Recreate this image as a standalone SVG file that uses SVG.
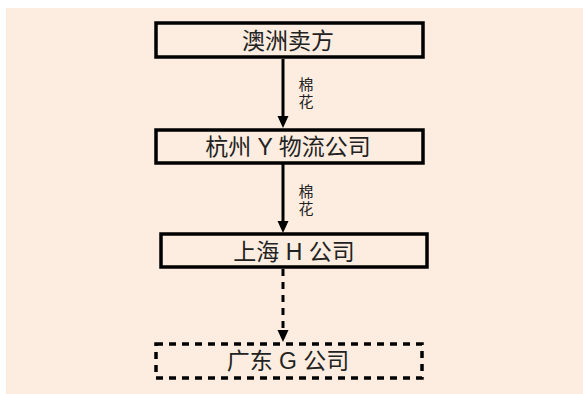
<svg xmlns="http://www.w3.org/2000/svg" width="583" height="394" viewBox="0 0 583 394">
<style>
.box{fill:none;stroke:#000;stroke-width:3.5}
.dash{stroke-dasharray:7 6}
.t{font-family:"Liberation Sans","Noto Sans CJK SC",sans-serif;font-size:23px;fill:#222;text-anchor:middle}
.lbl{font-family:"Noto Sans CJK SC",sans-serif;font-size:15px;fill:#222;writing-mode:vertical-rl;letter-spacing:2px}
.c{stroke:#000;stroke-width:3;fill:none}
</style>
<rect x="6" y="8" width="577" height="386" fill="#fcede0"/>
<g id="connectors">
<line class="c" x1="283" y1="59" x2="283" y2="117"/>
<path d="M277.5,116 L288.5,116 L283,128 Z" fill="#000"/>
<line class="c" x1="283" y1="164" x2="283" y2="222"/>
<path d="M277.5,221 L288.5,221 L283,233 Z" fill="#000"/>
<line class="c dash" x1="283" y1="269" x2="283" y2="331"/>
<path d="M277.5,330 L288.5,330 L283,342 Z" fill="#000"/>
<text class="lbl" x="306" y="77">棉花</text>
<text class="lbl" x="306" y="184">棉花</text>
</g>
<g id="n1">
<rect class="box" x="156" y="23" width="267" height="34"/>
<text class="t" x="288" y="49">澳洲卖方</text>
</g>
<g id="n2">
<rect class="box" x="156" y="130" width="267" height="33"/>
<text class="t" x="288" y="155">杭州 Y 物流公司</text>
</g>
<g id="n3">
<rect class="box" x="161" y="234" width="266" height="33"/>
<text class="t" x="294" y="260">上海 H 公司</text>
</g>
<g id="n4">
<rect class="box dash" x="156" y="344" width="266" height="34"/>
<text class="t" x="288" y="369">广东 G 公司</text>
</g>
</svg>
